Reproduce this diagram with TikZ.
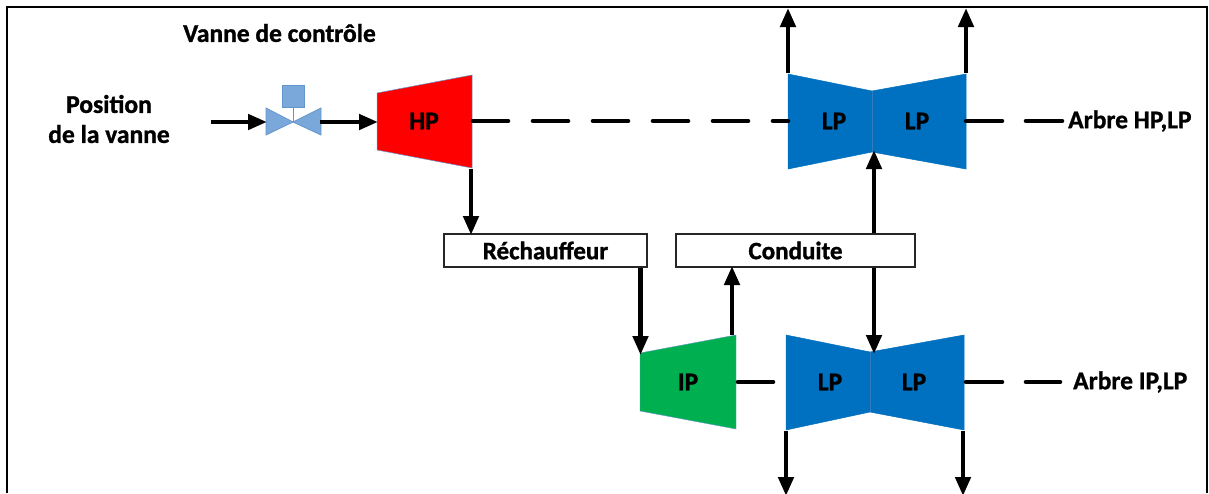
\documentclass[tikz,border=0pt]{standalone}
\usepackage{fontspec}
\setmainfont[BoldFeatures={FakeBold=1.2}]{Carlito}
\usetikzlibrary{arrows.meta}
\tikzset{
  lbl/.style={font=\fontsize{25.5}{30}\selectfont\bfseries,inner sep=0pt,align=center},
  flow/.style={line width=4.6pt,-{Triangle[length=19pt,width=15pt]},shorten >=-2pt},
  shaft/.style={line width=4.6pt,line cap=round},
  blocbox/.style={draw=black!85,line width=2pt,fill=white,inner sep=0pt,font=\fontsize{25}{30}\selectfont\bfseries},
  lpfill/.style={fill=lpblue,draw=lpblue,line width=.5pt},
  seam/.style={draw=seamblue,line width=1pt},
  valve/.style={fill=valveblue,draw=valveedge,line width=.8pt}
}
\definecolor{lpblue}{RGB}{0,112,192}
\definecolor{seamblue}{RGB}{50,125,190}
\definecolor{valveblue}{RGB}{122,168,218}
\definecolor{valveedge}{RGB}{100,150,205}
\definecolor{hpred}{RGB}{255,0,0}
\definecolor{ipgreen}{RGB}{0,176,80}
\begin{document}
\begin{tikzpicture}[x=1pt,y=-1pt]
\useasboundingbox (0,0) rectangle (1209,493);
\fill[white] (0,0) rectangle (1209,493);
% frame
\draw[line width=2pt] (7,493) -- (7,6.5) -- (1207,6.5) -- (1207,493);
% turbines
\fill[hpred,draw=valveedge,line width=.5pt] (377,93) -- (472,75) -- (472,168) -- (377,150) -- cycle;
\fill[ipgreen,draw=valveedge,line width=.4pt] (640,353) -- (736,335) -- (736,429) -- (640,411) -- cycle;
\path[lpfill] (788,74) -- (872,91) -- (872,152) -- (788,169) -- cycle;
\path[lpfill] (966,74) -- (872,91) -- (872,152) -- (966,169) -- cycle;
\path[lpfill] (786,335) -- (870,352) -- (870,412) -- (786,430) -- cycle;
\path[lpfill] (964,335) -- (870,352) -- (870,412) -- (964,430) -- cycle;
\draw[seam] (872,91) -- (872,152);
\draw[seam] (870,352) -- (870,412);
% valve
\path[valve] (266,108) -- (293,122) -- (266,135) -- cycle;
\path[valve] (321,108) -- (293,122) -- (321,135) -- cycle;
\draw[valveedge,line width=1pt] (293,107) -- (293,122);
\path[valve] (282,85) rectangle (304.5,107);
% named coordinates
\coordinate (in) at (211,122);
\coordinate (vl) at (265,122);
\coordinate (vr) at (320,122);
\coordinate (hpl) at (376,122);
\coordinate (hpr) at (473,121);
\coordinate (lpl) at (788,121);
\coordinate (hpb) at (471,169);
\coordinate (r1) at (471,233);
\coordinate (up1a) at (788,73);
\coordinate (up1b) at (788,10);
\coordinate (up2a) at (966,73);
\coordinate (up2b) at (966,10);
\coordinate (s1a) at (966,121);
\coordinate (s1b) at (1002,121);
\coordinate (s1c) at (1026,121);
\coordinate (s1d) at (1062,121);
\coordinate (s2a) at (738,382);
\coordinate (s2b) at (773,382);
\coordinate (s3a) at (966,382);
\coordinate (s3b) at (1002,382);
\coordinate (s3c) at (1026,382);
\coordinate (s3d) at (1060,382);
\coordinate (dn1a) at (786,431);
\coordinate (dn1b) at (786,494);
\coordinate (dn2a) at (963,431);
\coordinate (dn2b) at (963,494);
\coordinate (ipin) at (640.5,353);
\coordinate (ipout) at (732,335);
\coordinate (lptop) at (874,152);
\coordinate (lpbot) at (874,352);
% boxes
\node[blocbox,minimum width=203pt,minimum height=33pt] (rech) at (545.5,250.5) {Réchauffeur};
\node[blocbox,minimum width=239pt,minimum height=33pt] (cond) at (795.5,250.5) {Conduite};
% labels
\node[lbl] (title) at (279.5,33) {Vanne de contrôle};
\node[lbl] (pos) at (109,119) {Position\\de la vanne};
\node[lbl] (hp) at (424,121) {HP};
\node[lbl] (ip) at (688,382) {IP};
\node[lbl] (lp1) at (834,121) {LP};
\node[lbl] (lp2) at (917,121) {LP};
\node[lbl] (lp3) at (830,382) {LP};
\node[lbl] (lp4) at (914,382) {LP};
\node[lbl,anchor=west] (a1) at (1068,121) {Arbre HP,LP};
\node[lbl,anchor=west] (a2) at (1073,382) {Arbre IP,LP};
% connectors
\draw[flow] (in) -- (vl);
\draw[flow] (vr) -- (hpl);
\draw[flow] (hpb) -- (r1);
\draw[flow] (rech.south -| ipin) -- (ipin);
\draw[flow] (ipout) -- (ipout |- cond.south);
\draw[flow] (cond.north -| lptop) -- (lptop);
\draw[flow] (cond.south -| lpbot) -- (lpbot);
\draw[flow] (up1a) -- (up1b);
\draw[flow] (up2a) -- (up2b);
\draw[flow] (dn1a) -- (dn1b);
\draw[flow] (dn2a) -- (dn2b);
\draw[shaft,dash pattern=on 35pt off 25pt] (hpr) -- (lpl);
\draw[shaft] (s1a) -- (s1b);
\draw[shaft] (s1c) -- (s1d);
\draw[shaft] (s2a) -- (s2b);
\draw[shaft] (s3a) -- (s3b);
\draw[shaft] (s3c) -- (s3d);
\end{tikzpicture}
\end{document}
